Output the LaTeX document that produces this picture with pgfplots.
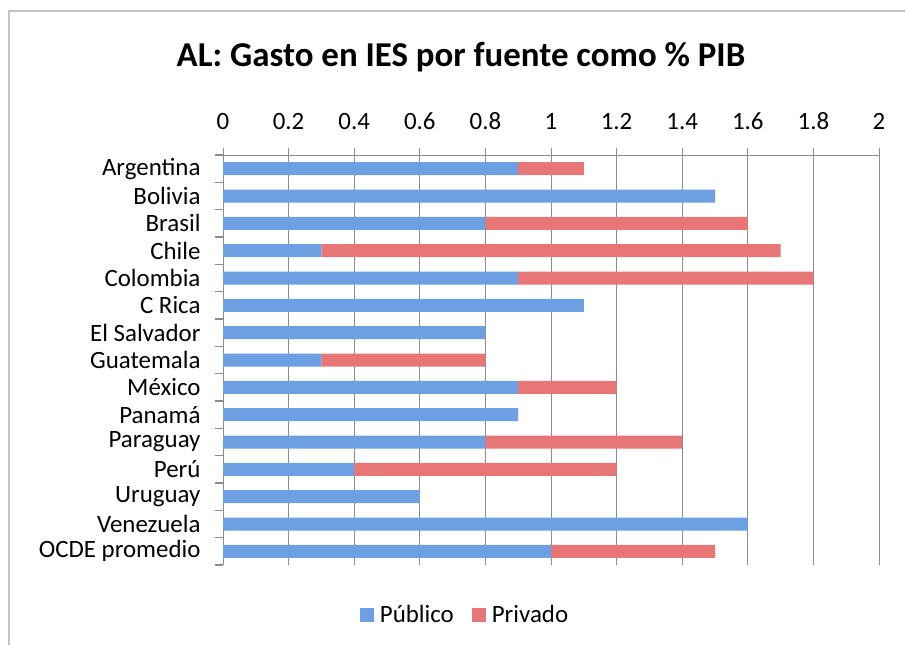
\documentclass[border=0pt]{standalone}
\usepackage{pgfplots}
\pgfplotsset{compat=1.18}
\usepackage{fontspec}
\setmainfont{Carlito}
\definecolor{gridc}{RGB}{140,140,140}
\definecolor{frame}{RGB}{195,195,195}
\definecolor{bluebar}{RGB}{108,160,226}
\definecolor{redbar}{RGB}{232,118,118}
\begin{document}
\begin{tikzpicture}
\useasboundingbox (0,0) rectangle (905bp,-645bp);
\draw[frame, line width=2bp] (9bp,-646bp) -- (9bp,-11bp) -- (906bp,-11bp);
\node[font=\bfseries\fontsize{35}{41}\selectfont] at (461bp,-57bp) {AL: Gasto en IES por fuente como \% PIB};
\begin{axis}[
  at={(223bp,-565bp)}, anchor=south west,
  scale only axis, width=656bp, height=410bp,
  xmin=0, xmax=2, ymin=-0.5, ymax=14.5,
  clip=false,
  axis x line*=top, axis y line*=left,
  axis line style={gridc, line width=1bp},
  xtick={0,0.2,0.4,0.6,0.8,1,1.2,1.4,1.6,1.8,2},
  xmajorgrids, grid style={gridc, line width=1bp},
  major tick length=0pt,
  /pgf/number format/assume math mode=true,
  ticklabel style={font=\fontsize{25}{29}\selectfont},
  xticklabel style={yshift=22bp},
  yticklabel style={xshift=-19bp},
  ytick={0,1,2,3,4,5,6,7,8,9,10,11,12,13,14},
  yticklabels={OCDE promedio,Venezuela,Uruguay,Perú,Paraguay,Panamá,México,Guatemala,El Salvador,C Rica,Colombia,Chile,Brasil,Bolivia,Argentina},
  stack plots=x,
  legend columns=2,
  legend style={draw=none, at={(0.372,-0.122)}, anchor=center, font=\fontsize{25}{29}\selectfont, nodes={inner xsep=6bp}, /tikz/every even column/.append style={column sep=12bp}},
  legend image code/.code={\fill[#1] (0bp,-7bp) rectangle (14bp,7bp);},
]
\addplot[xbar, bar width=13bp, bar shift=0pt, draw=none, fill=bluebar] coordinates {
(0.9,14) (1.5,13) (0.8,12) (0.3,11) (0.9,10) (1.1,9) (0.8,8) (0.3,7) (0.9,6) (0.9,5) (0.8,4) (0.4,3) (0.6,2) (1.6,1) (1.0,0)};
\addplot[xbar, bar width=13bp, bar shift=0pt, draw=none, fill=redbar] coordinates {
(0.2,14) (0,13) (0.8,12) (1.4,11) (0.9,10) (0,9) (0,8) (0.5,7) (0.3,6) (0,5) (0.6,4) (0.8,3) (0,2) (0,1) (0.5,0)};
\legend{Público,Privado}
\pgfplotsinvokeforeach{-0.5,0.5,1.5,2.5,3.5,4.5,5.5,6.5,7.5,8.5,9.5,10.5,11.5,12.5,13.5,14.5}{
  \draw[gridc, line width=1.5bp] (axis cs:0,#1) -- ([xshift=-8bp]axis cs:0,#1);
}
\pgfplotsinvokeforeach{0,0.2,0.4,0.6,0.8,1,1.2,1.4,1.6,1.8,2}{
  \draw[gridc, line width=1bp] (axis cs:#1,14.5) -- ([yshift=7.5bp]axis cs:#1,14.5);
}
\end{axis}
\end{tikzpicture}
\end{document}
